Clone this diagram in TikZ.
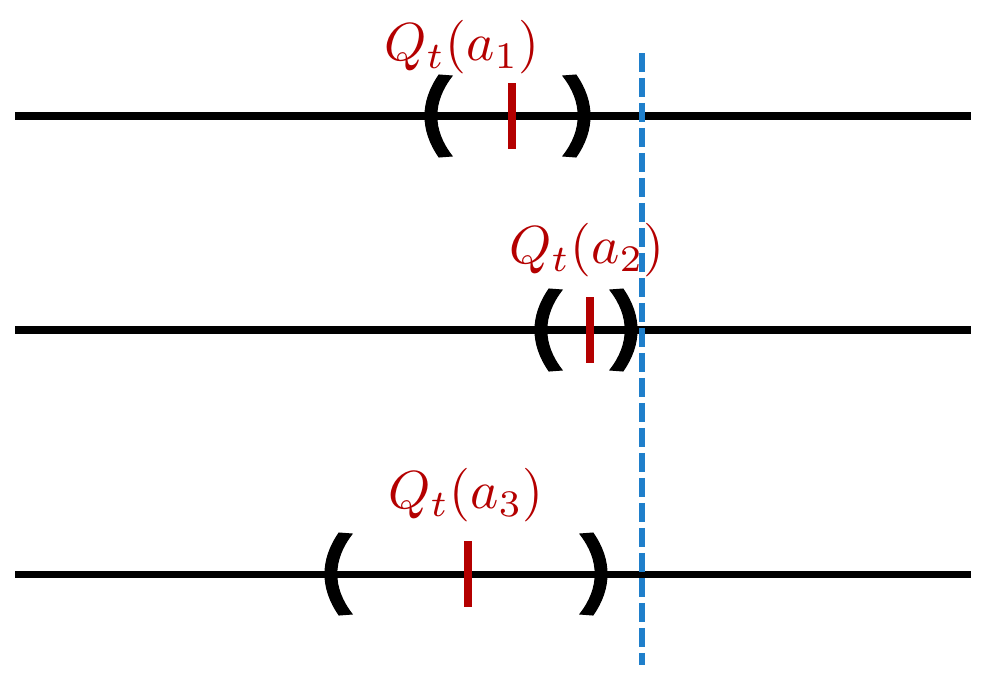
\documentclass[tikz,border=0pt]{standalone}
\usepackage{tikz}
\definecolor{qred}{HTML}{B40000}
\definecolor{cutblue}{HTML}{1F7FCB}
\tikzset{
    axisline/.style={line width=4pt,black},
    bracket/.style={fill=black,draw=black,line width=0.6pt},
    qmark/.style={line width=4pt,qred},
    qlabel/.style={text=qred,font=\normalsize,scale=3.05,transform shape,anchor=base,inner sep=0pt},
    cutline/.style={line width=3.4pt,cutblue,dash pattern=on 0.38cm off 0.12cm}
}

\begin{document}
\begin{tikzpicture}[x=0.02cm,y=-0.02cm]
\useasboundingbox (0,0) rectangle (986,680);
% one row per action: line, interval, estimate, label
\foreach \k/\y/\l/\r/\m/\lx/\ly in {1/116/430/585/512/462/60,2/330/540/632/590/587/263,3/574/330/602/468/466/508}{
    \draw[axisline] (15,\y) coordinate (s\k) -- (971,\y) coordinate (e\k);
    \path[bracket] (\l+9,\y-41) .. controls (\l-9.7,\y-14) and (\l-9.7,\y+14) .. (\l+9,\y+41)
        -- (\l+22,\y+40) .. controls (\l+1.7,\y+14) and (\l+1.7,\y-14) .. (\l+22,\y-40) -- cycle;
    \path[bracket] (\r-9,\y-41) .. controls (\r+9.7,\y-14) and (\r+9.7,\y+14) .. (\r-9,\y+41)
        -- (\r-22,\y+40) .. controls (\r-1.7,\y+14) and (\r-1.7,\y-14) .. (\r-22,\y-40) -- cycle;
    \draw[qmark] (\m,\y-33) coordinate (t\k) -- (\m,\y+33) coordinate (b\k);
    \node[qlabel] (q\k) at (\lx,\ly) {$Q_t(a_\k)$};
}
\coordinate (cuttop) at (642,53);
\coordinate (cutbot) at (642,665);
\draw[cutline] (cuttop) -- (cutbot);
\end{tikzpicture}
\end{document}
